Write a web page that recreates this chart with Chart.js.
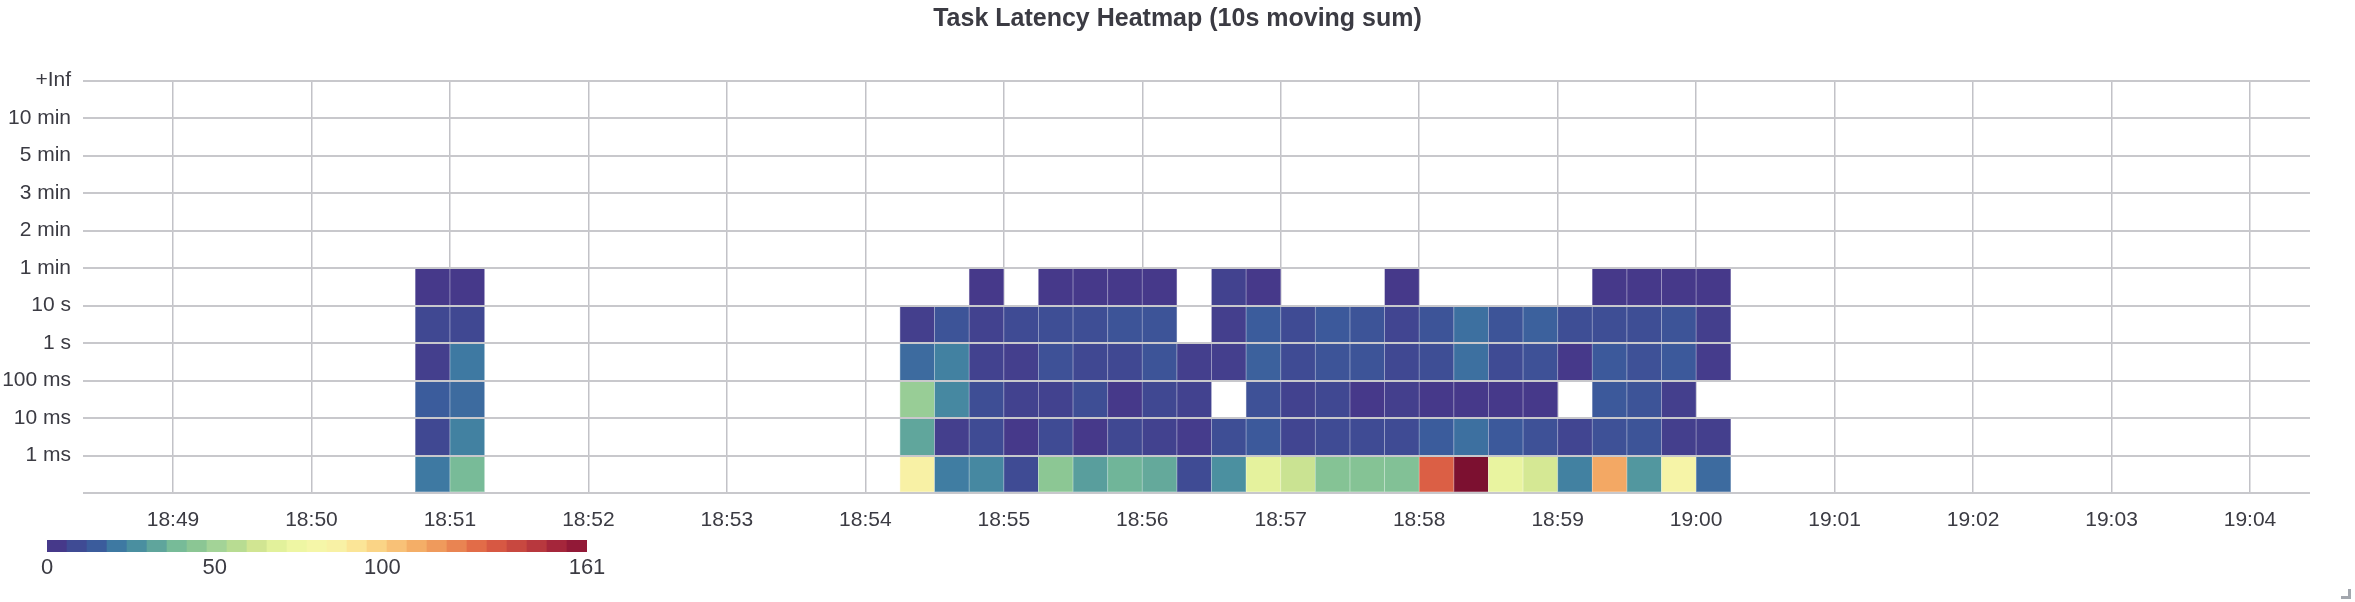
<!DOCTYPE html>
<html>
<head>
<meta charset="utf-8">
<title>Task Latency Heatmap</title>
<script src="https://cdn.jsdelivr.net/npm/chart.js@4.4.0/dist/chart.umd.min.js"></script>
<style>
  html, body { margin: 0; padding: 0; background: #fff; }
  #wrap { position: relative; width: 2355px; height: 602px; }
  #heatmap { position: absolute; left: 0; top: 0; }
  #colorbar { position: absolute; left: 0; top: 525px; }
  #grip { position: absolute; left: 2341px; top: 589px; width: 7px; height: 7px;
          border-right: 3px solid #a3a7ae; border-bottom: 3px solid #a3a7ae; }
</style>
</head>
<body>
<div id="wrap">
  <canvas id="heatmap" width="2355" height="602"></canvas>
  <canvas id="colorbar" width="640" height="70"></canvas>
  <div id="grip"></div>
</div>
<script>
const ctx = document.querySelector("#heatmap").getContext("2d");
const barCtx = document.querySelector("#colorbar").getContext("2d");

// time window shown on the x axis
const viewStart = "18:48:21";
const viewEnd = "19:04:26";

// 15s bins (start time of each column)
const binStarts = [
  "18:50:45", "18:51:00",
  "18:54:15", "18:54:30", "18:54:45", "18:55:00", "18:55:15", "18:55:30",
  "18:55:45", "18:56:00", "18:56:15", "18:56:30", "18:56:45", "18:57:00",
  "18:57:15", "18:57:30", "18:57:45", "18:58:00", "18:58:15", "18:58:30",
  "18:58:45", "18:59:00", "18:59:15", "18:59:30", "18:59:45", "19:00:00",
];

// y axis labels (upper bound of each latency bucket)
const bucketLabels = ["", "1 ms", "10 ms", "100 ms", "1 s", "10 s", "1 min", "2 min", "3 min", "5 min", "10 min", "+Inf"];

// task counts per bucket, one value per bin (null = no tasks)
const under1ms   = [21, 39, 86, 22, 25, 9, 45, 31, 37, 34, 9, 27, 70, 61, 43, 43, 42, 132, 161, 72, 64, 23, 112, 29, 83, 18];
const under10ms  = [8, 23, 33, 5, 9, 2, 9, 3, 8, 6, 4, 10, 14, 7, 9, 9, 9, 15, 19, 14, 11, 7, 11, 12, 5, 5];
const under100ms = [15, 18, 48, 25, 10, 6, 6, 10, 3, 8, 6, null, 11, 6, 8, 3, 5, 2, 3, 3, 2, null, 14, 12, 5, null];
const under1s    = [5, 21, 18, 23, 6, 5, 11, 8, 8, 12, 5, 5, 16, 9, 12, 12, 8, 10, 19, 9, 11, 2, 14, 11, 14, 4];
const under10s   = [8, 8, 5, 12, 6, 9, 10, 10, 12, 12, null, 5, 15, 9, 14, 12, 7, 12, 19, 12, 16, 10, 10, 10, 12, 5];
const under1min  = [2, 2, null, null, 3, null, 3, 2, 3, 3, null, 6, 3, null, null, null, 3, null, null, null, null, null, 3, 3, 3, 3];

// colour scale
const colorMax = 161;
const colorTicks = [0, 50, 100, 161];
const palette = [
  "#46398a", "#3f4b94", "#3b5c9c", "#3e79a2", "#4a8fa0", "#5fa59c", "#77bb98",
  "#8bc694", "#a3d397", "#b8dc92", "#d1e592", "#e2f19b", "#eef6a3", "#f5f6a8",
  "#f8f1a5", "#fbe597", "#fad486", "#f8c177", "#f4ae67", "#ef9a5c", "#e98452",
  "#e26c48", "#d75843", "#c84840", "#b8383e", "#a5263b", "#921937",
];
const topColor = "#7c1030";

const textColor = "#3b3b43";
const fontFamily = "'Liberation Sans', Arial, sans-serif";
Chart.defaults.font.family = fontFamily;

const binSize = 15;
const toSec = (s) => {
  const [h, m, sec] = s.split(":").map(Number);
  return h * 3600 + m * 60 + (sec || 0);
};
const fmtTime = (v) => {
  const h = Math.floor(v / 3600);
  const m = Math.floor((v % 3600) / 60);
  return h + ":" + String(m).padStart(2, "0");
};

const hexToRgb = (h) => [1, 3, 5].map((i) => parseInt(h.slice(i, i + 2), 16));
const mix = (a, b, f) => a.map((c, i) => Math.round(c + (b[i] - c) * f));
const rgb = (c) => "rgb(" + c.join(",") + ")";

// palette colours sit in the middle of their band, topColor at the max
const stops = palette.map((c, i) => ({ at: (i + 0.5) / palette.length, c: hexToRgb(c) }));
stops.push({ at: 1, c: hexToRgb(topColor) });
const heatColor = (v) => {
  const t = v / colorMax;
  if (t <= stops[0].at) return stops[0].c;
  for (let i = 1; i < stops.length; i++) {
    if (t <= stops[i].at) {
      const f = (t - stops[i - 1].at) / (stops[i].at - stops[i - 1].at);
      return mix(stops[i - 1].c, stops[i].c, f);
    }
  }
  return stops[stops.length - 1].c;
};

const rows = [under1ms, under10ms, under100ms, under1s, under10s, under1min];

const datasets = rows.map((counts, row) => ({
  data: counts
    .map((v, i) => (v == null ? null : { x: toSec(binStarts[i]) + binSize / 2, y: [row, row + 1], v: v }))
    .filter((p) => p),
  backgroundColor: (c) => (c.raw ? rgb(heatColor(c.raw.v)) : "transparent"),
  borderColor: (c) => (c.raw ? rgb(mix(heatColor(c.raw.v), [255, 255, 255], 0.45)) : "transparent"),
  borderWidth: 0.75,
  borderSkipped: false,
  grouped: false,
  barPercentage: 1,
  categoryPercentage: 1,
}));

new Chart(ctx, {
  type: "bar",
  data: { datasets: datasets },
  options: {
    responsive: false,
    animation: false,
    events: [],
    layout: { padding: { bottom: 69 } },
    plugins: {
      legend: { display: false },
      tooltip: { enabled: false },
      title: {
        display: true,
        text: "Task Latency Heatmap (10s moving sum)",
        color: textColor,
        font: { size: 25, weight: "bold" },
        padding: { top: 4, bottom: 46.7 },
      },
    },
    scales: {
      x: {
        type: "linear",
        min: toSec(viewStart),
        max: toSec(viewEnd),
        offset: false,
        grid: { offset: false, color: "#c2c2c7", lineWidth: 1.5, drawTicks: false, z: 0 },
        border: { display: false },
        ticks: {
          stepSize: 60,
          includeBounds: false,
          autoSkip: false,
          maxRotation: 0,
          padding: 15,
          color: textColor,
          font: { size: 21 },
          callback: (v) => fmtTime(v),
        },
        afterFit: (s) => { s.height = 40; },
      },
      y: {
        type: "linear",
        min: 0,
        max: bucketLabels.length - 1,
        grid: { color: "#c8c8cc", lineWidth: 2, drawTicks: false, z: 1 },
        border: { display: false },
        ticks: {
          stepSize: 1,
          padding: 12,
          color: textColor,
          font: { size: 21 },
          callback: (v) => bucketLabels[v],
        },
        afterFit: (s) => { s.width = 83; },
      },
      // empty strip on the right, keeps the title centred on the page
      yPad: {
        type: "linear",
        position: "right",
        grid: { display: false },
        border: { display: false },
        ticks: { display: false },
        afterFit: (s) => { s.width = 45; },
      },
    },
  },
});

// colour legend
const bandWidth = colorMax / palette.length;
new Chart(barCtx, {
  type: "bar",
  data: {
    labels: ["scale"],
    datasets: [{
      data: palette.map((c, i) => ({ x: [i * bandWidth, (i + 1) * bandWidth], y: "scale" })),
      backgroundColor: palette,
      borderWidth: 0,
      barPercentage: 1,
      categoryPercentage: 1,
      grouped: false,
    }],
  },
  options: {
    indexAxis: "y",
    responsive: false,
    animation: false,
    events: [],
    layout: { padding: { left: 47, right: 53, top: 15, bottom: 13 } },
    plugins: { legend: { display: false }, tooltip: { enabled: false } },
    scales: {
      x: {
        type: "linear",
        min: 0,
        max: colorMax,
        grid: { display: false, drawTicks: false },
        border: { display: false },
        afterBuildTicks: (s) => { s.ticks = colorTicks.map((v) => ({ value: v })); },
        ticks: { padding: 3, color: textColor, font: { size: 22 } },
        afterFit: (s) => { s.height = 30; },
      },
      y: { display: false },
    },
  },
});
</script>
</body>
</html>
